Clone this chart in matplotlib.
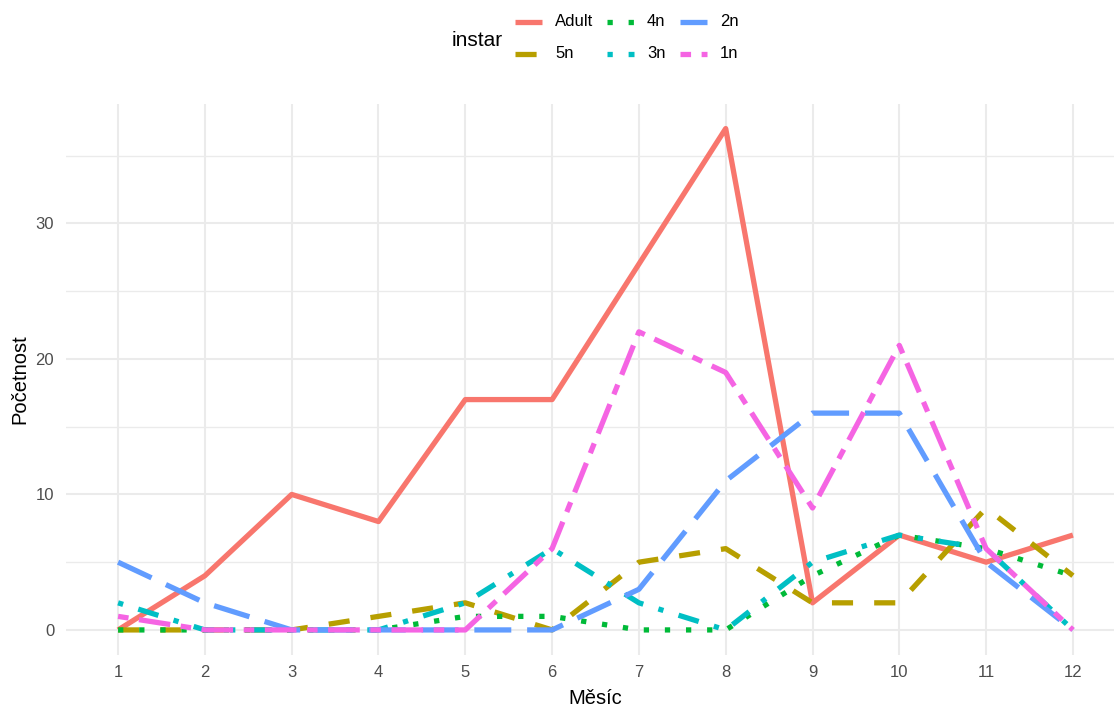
import matplotlib
matplotlib.use("Agg")
import matplotlib.pyplot as plt
from matplotlib.lines import Line2D

# ---- data ----
months = [1, 2, 3, 4, 5, 6, 7, 8, 9, 10, 11, 12]
month_labels = [str(m) for m in months]
instars = ["Adult", "5n", "4n", "3n", "2n", "1n"]
adult = [0, 4, 10, 8, 17, 17, 27, 37, 2, 7, 5, 7]
n5 = [0, 0, 0, 1, 2, 0, 5, 6, 2, 2, 9, 4]
n4 = [0, 0, 0, 0, 1, 1, 0, 0, 4, 7, 6, 4]
n3 = [2, 0, 0, 0, 2, 6, 2, 0, 5, 7, 6, 0]
n2 = [5, 2, 0, 0, 0, 0, 3, 11, 16, 16, 5, 0]
n1 = [1, 0, 0, 0, 0, 6, 22, 19, 9, 21, 6, 0]
series = [adult, n5, n4, n3, n2, n1]
y_ticks = [0, 10, 20, 30]
y_minor = [5, 15, 25, 35]

colors = ["#F8766D", "#B79F00", "#00BA38", "#00BFC4", "#619CFF", "#F564E3"]
dashes = [None, (4, 4), (1, 3), (1, 3, 4, 3), (7, 3), (2, 2, 6, 2)]

plt.rcParams['font.family'] = ['Liberation Sans', 'DejaVu Sans']

W, H = 1114, 706
fig = plt.figure(figsize=(W / 100, H / 100), dpi=100)

def fx(x):
    return x / W

def fy(y):
    return 1 - y / H

left, right, top, bottom = 66, 1125, 103.5, 655
ax = fig.add_axes([fx(left), fy(bottom), (right - left) / W, (bottom - top) / H])
ax.set_xlim(0.4, 12.6)
ax.set_ylim(-1.85, 38.85)
for s in ax.spines.values():
    s.set_visible(False)

grid_c = "#EBEBEB"
for m in months:
    ax.axvline(m, color=grid_c, lw=1.5, zorder=0)
for v in y_ticks:
    ax.axhline(v, color=grid_c, lw=1.5, zorder=0)
for v in y_minor:
    ax.axhline(v, color=grid_c, lw=1.0, zorder=0)

LW = 3.8
for vals, c, d in zip(series, colors, dashes):
    line, = ax.plot(months, vals, color=c, lw=LW, solid_capstyle='butt',
                    dash_capstyle='butt', solid_joinstyle='round', zorder=2)
    if d is not None:
        line.set_dashes(d)

ax.set_xticks(months)
ax.set_xticklabels(month_labels)
ax.set_yticks(y_ticks)
ax.tick_params(axis='both', length=0, labelsize=12, labelcolor="#4D4D4D")
ax.tick_params(axis='x', pad=7.5)
ax.tick_params(axis='y', pad=8.5)

fig.text(fx(595), fy(704), "Měsíc", ha='center', va='baseline', fontsize=14.5, color='black')
fig.text(fx(20), fy(379), "Početnost", ha='center', va='center', rotation=90,
         fontsize=14.5, color='black')

# legend
fig.text(fx(452), fy(40), "instar", ha='left', va='center', fontsize=15, color='black')
col_x = [515, 607, 680]
row_y = [22, 54]
label_gap = 13
key_len = 27
for i, (name, c, d) in enumerate(zip(instars, colors, dashes)):
    col, row = i // 2, i % 2
    x0 = col_x[col]
    y0 = row_y[row]
    ln = Line2D([fx(x0), fx(x0 + key_len)], [fy(y0), fy(y0)], transform=fig.transFigure,
                color=c, lw=LW, solid_capstyle='butt', dash_capstyle='butt')
    if d is not None:
        ln.set_dashes(d)
    fig.add_artist(ln)
    fig.text(fx(x0 + key_len + label_gap), fy(y0), name, ha='left', va='center',
             fontsize=12, color='black')

fig.savefig("out.png", dpi=100)
